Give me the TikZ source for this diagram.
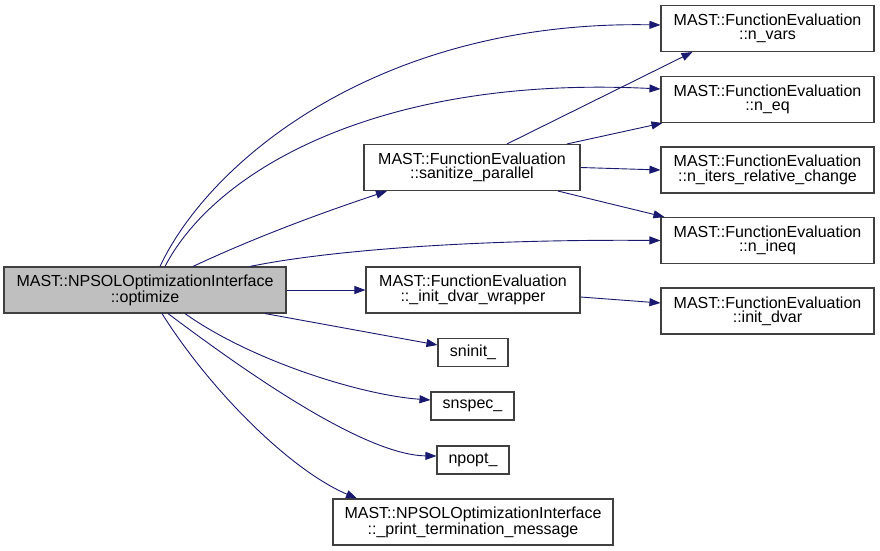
\documentclass[tikz,border=0pt]{standalone}
\usepackage{fontspec}
\setmainfont{Liberation Sans}
\usetikzlibrary{arrows.meta}
\definecolor{edgecol}{HTML}{191970}
\definecolor{boxline}{HTML}{404040}
\definecolor{mainfill}{HTML}{BFBFBF}
\begin{document}
\begin{tikzpicture}[x=1pt,y=-1pt,
  fbox/.style={draw=boxline,line width=1.1pt,fill=white,rectangle,inner sep=0pt,align=center,
    font=\fontsize{16}{14.4}\selectfont,minimum height=46pt},
  sbox/.style={fbox,minimum height=28pt},
  edge/.style={draw=edgecol,line width=0.9pt,-{Triangle[length=11pt,width=8pt]}}]
\useasboundingbox[fill=white] (0,0) rectangle (880,551);
% nodes
\node[fbox,fill=mainfill,minimum width=282pt] (main) at (145,290) {MAST::NPSOLOptimizationInterface\\::optimize};
\node[fbox,minimum width=216pt] (san) at (472,167.5) {MAST::FunctionEvaluation\\::sanitize\_parallel};
\node[fbox,minimum width=214pt] (wrap) at (473,290) {MAST::FunctionEvaluation\\::\_init\_dvar\_wrapper};
\node[fbox,minimum width=213pt] (nvars) at (767.5,28.5) {MAST::FunctionEvaluation\\::n\_vars};
\node[fbox,minimum width=213pt] (neq) at (767.5,99.5) {MAST::FunctionEvaluation\\::n\_eq};
\node[fbox,minimum width=213pt] (niters) at (767.5,170) {MAST::FunctionEvaluation\\::n\_iters\_relative\_change};
\node[fbox,minimum width=213pt] (nineq) at (767.5,240.5) {MAST::FunctionEvaluation\\::n\_ineq};
\node[fbox,minimum width=213pt] (initd) at (767.5,311) {MAST::FunctionEvaluation\\::init\_dvar};
\node[sbox,minimum width=70pt] (sninit) at (473,352.5) {sninit\_};
\node[sbox,minimum width=83pt] (snspec) at (472.5,406) {snspec\_};
\node[sbox,minimum width=72pt] (npopt) at (473,460) {npopt\_};
\node[fbox,minimum width=280pt] (print) at (473,522) {MAST::NPSOLOptimizationInterface\\::\_print\_termination\_message};
% edges from main
\draw[edge] ([xshift=15pt]main.north) .. controls (210,160) and (380,20) .. ([yshift=3.5pt]nvars.west);
\draw[edge] ([xshift=20pt]main.north) .. controls (215,170) and (380,75) .. ([yshift=10.5pt]neq.west);
\draw[edge] ([xshift=48pt]main.north) .. controls (260,235) and (330,210) .. ([xshift=-85pt]san.south);
\draw[edge] ([xshift=105pt]main.north) .. controls (330,250) and (480,239) .. (nineq.west);
\draw[edge] (main.east) -- (wrap.west);
\draw[edge] ([xshift=120pt]main.south) -- ([yshift=7.5pt]sninit.west);
\draw[edge] ([xshift=40pt]main.south) .. controls (250,360) and (360,395) .. ([yshift=6pt]snspec.west);
\draw[edge] ([xshift=23pt]main.south) .. controls (230,360) and (360,455) .. ([yshift=4pt]npopt.west);
\draw[edge] ([xshift=17pt]main.south) .. controls (210,390) and (290,470) .. ([xshift=-116pt]print.north);
% edges from sanitize
\draw[edge] ([xshift=35pt]san.north) -- ([xshift=-75pt]nvars.south);
\draw[edge] ([xshift=95pt]san.north) -- ([xshift=2pt]neq.south west);
\draw[edge] (san.east) -- (niters.west);
\draw[edge] ([xshift=86pt]san.south) -- ([xshift=4pt]nineq.north west);
% edge from wrapper
\draw[edge] ([yshift=-7pt]wrap.east) -- ([yshift=8pt]initd.west);
\end{tikzpicture}
\end{document}
